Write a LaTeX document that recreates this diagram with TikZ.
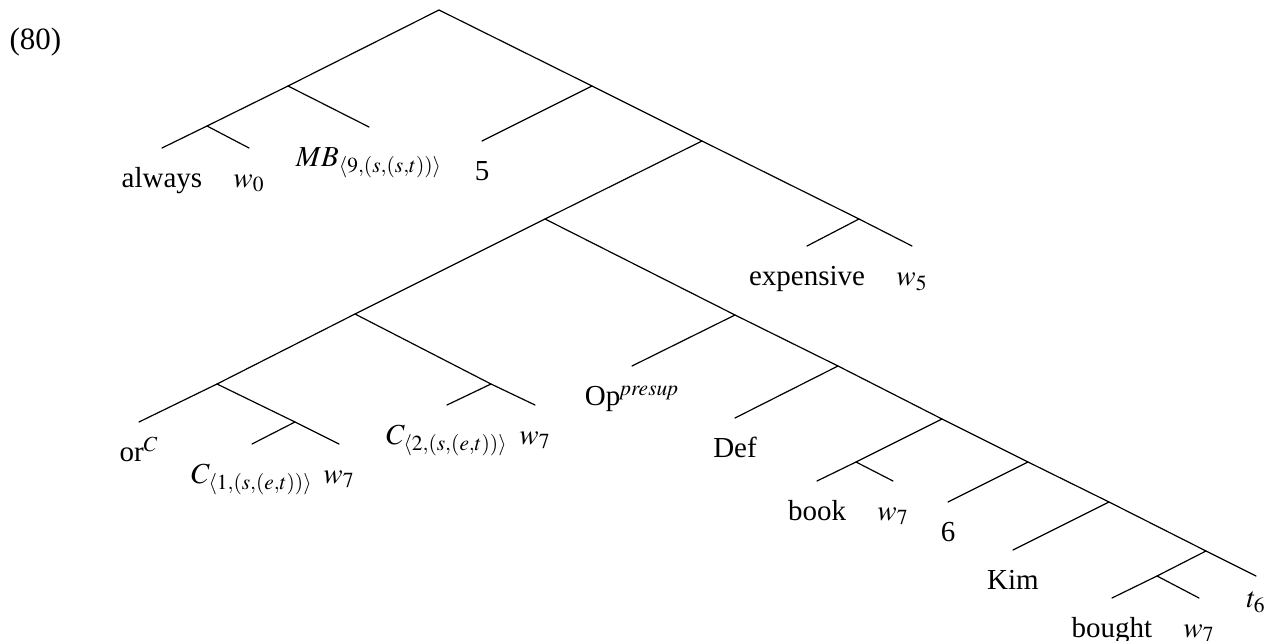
\documentclass[tikz,border=0pt]{standalone}
\usepackage{mathptmx}
\usepackage{fontspec}
\setmainfont{Liberation Serif}

\begin{document}
\begin{tikzpicture}[line cap=round,line join=round,x=0.5pt,y=-0.5pt,line width=0.6pt,
  font=\fontsize{14.5}{17}\selectfont,
  lbl/.style={anchor=north,inner sep=0pt,text height=19.5pt}]
\useasboundingbox (0,0) rectangle (1267,641);
\node[anchor=base west,inner sep=0pt,font=\fontsize{15.5}{18}\selectfont] (exnum) at (9,50) {(80)};
% branching points
\coordinate (root) at (439,10);
\coordinate (A) at (288,86);
\coordinate (A1) at (207,126);
\coordinate (B) at (592,86);
\coordinate (C) at (702,141);
\coordinate (D) at (545,219);
\coordinate (E) at (859,219);
\coordinate (F) at (355,314);
\coordinate (H) at (217,384);
\coordinate (J) at (295,422);
\coordinate (I) at (491,384);
\coordinate (G1) at (735,315);
\coordinate (G2) at (838,366);
\coordinate (G3) at (942,419);
\coordinate (K) at (856,462);
\coordinate (G4) at (1028,462);
\coordinate (G5) at (1109,502);
\coordinate (G6) at (1206,551);
\coordinate (L) at (1157,576);
% leaves
\node[lbl] (always) at (162,148) {always};
\node[lbl] (w0) at (249,148) {$w_0$};
\node[lbl] (MB) at (369,127) {$MB_{\langle 9,(s,(s,t))\rangle}$};
\node[lbl] (five) at (482,141) {5};
\node[lbl] (expensive) at (807,246) {expensive};
\node[lbl] (w5) at (912,246) {$w_5$};
\node[lbl] (or) at (139,422) {or$^C$};
\node[lbl] (C1) at (252,444) {$C_{\langle 1,(s,(e,t))\rangle}$};
\node[lbl] (w7a) at (339,444) {$w_7$};
\node[lbl] (C2) at (447,405) {$C_{\langle 2,(s,(e,t))\rangle}$};
\node[lbl] (w7b) at (535,405) {$w_7$};
\node[lbl] (Op) at (632,366) {Op$^{\mathit{presup}}$};
\node[lbl] (Def) at (735,418) {Def};
\node[lbl] (book) at (817,481) {book};
\node[lbl] (w7c) at (893,481) {$w_7$};
\node[lbl] (six) at (948,502) {6};
\node[lbl] (Kim) at (1013,550) {Kim};
\node[lbl] (bought) at (1112,598) {bought};
\node[lbl] (w7d) at (1199,598) {$w_7$};
\node[lbl,text height=15.5pt] (t6) at (1256,576) {$t_6$};
% branches
\draw (root) -- (A) (root) -- (B);
\draw (A) -- (A1) (A) -- (MB.north);
\draw (A1) -- (always.north) (A1) -- (w0.north);
\draw (B) -- (five.north) (B) -- (C);
\draw (C) -- (D) (C) -- (E);
\draw (E) -- (expensive.north) (E) -- (w5.north);
\draw (D) -- (F) (D) -- (G1);
\draw (F) -- (H) (F) -- (I);
\draw (H) -- (or.north) (H) -- (J);
\draw (J) -- (C1.north) (J) -- (w7a.north);
\draw (I) -- (C2.north) (I) -- (w7b.north);
\draw (G1) -- (Op.north) (G1) -- (G2);
\draw (G2) -- (Def.north) (G2) -- (G3);
\draw (G3) -- (K) (G3) -- (G4);
\draw (K) -- (book.north) (K) -- (w7c.north);
\draw (G4) -- (six.north) (G4) -- (G5);
\draw (G5) -- (Kim.north) (G5) -- (G6);
\draw (G6) -- (L) (G6) -- (t6.north);
\draw (L) -- (bought.north) (L) -- (w7d.north);
\end{tikzpicture}
\end{document}
